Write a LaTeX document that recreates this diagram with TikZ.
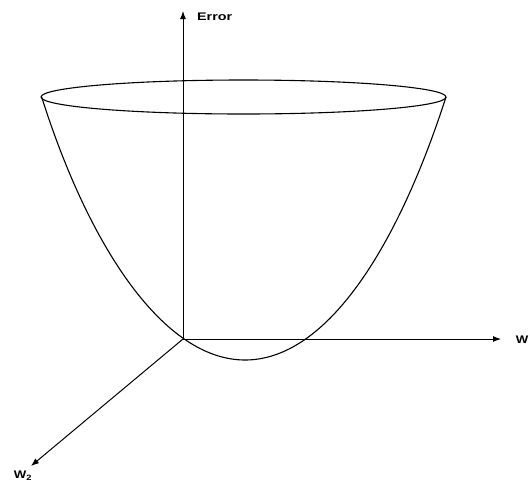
\documentclass[tikz,border=0pt]{standalone}
\usepackage{fontspec}
\setmainfont{Liberation Sans}
\usetikzlibrary{arrows.meta}
\tikzset{
  axis/.style={line width=1pt, -{Latex[length=8pt,width=6pt]}},
  curve/.style={line width=1.1pt},
  axlabel/.style={font=\fontsize{11}{13}\selectfont\bfseries, inner sep=0pt}
}
\begin{document}
\begin{tikzpicture}[x=1pt,y=-1pt]
\useasboundingbox (0,0) rectangle (530,483);
% axis points
\coordinate (O) at (183,339);
\coordinate (Etip) at (183,11);
\coordinate (Wtip) at (501,339);
\coordinate (W2tip) at (31,466);
% bowl rim
\draw[curve] (243.5,97) ellipse [x radius=202.5pt, y radius=17pt];
% bowl profile
\draw[curve] (41.5,96.5) .. controls (90,250) and (165,360) .. (245,360)
  .. controls (325,360) and (396,252) .. (446,97);
% axes
\draw[axis] (O) -- (Etip);
\draw[axis] (O) -- (Wtip);
\draw[axis] (O) -- (W2tip);
% labels
\node[axlabel, anchor=west] (lerr) at (197,17) {\scalebox{1.3}[1]{Error}};
\node[axlabel] (lw) at (522,340) {\scalebox{1.2}[1]{W}};
\node[axlabel] (lw2) at (23,476) {\scalebox{1.2}[1]{W\textsubscript{2}}};
\end{tikzpicture}
\end{document}
